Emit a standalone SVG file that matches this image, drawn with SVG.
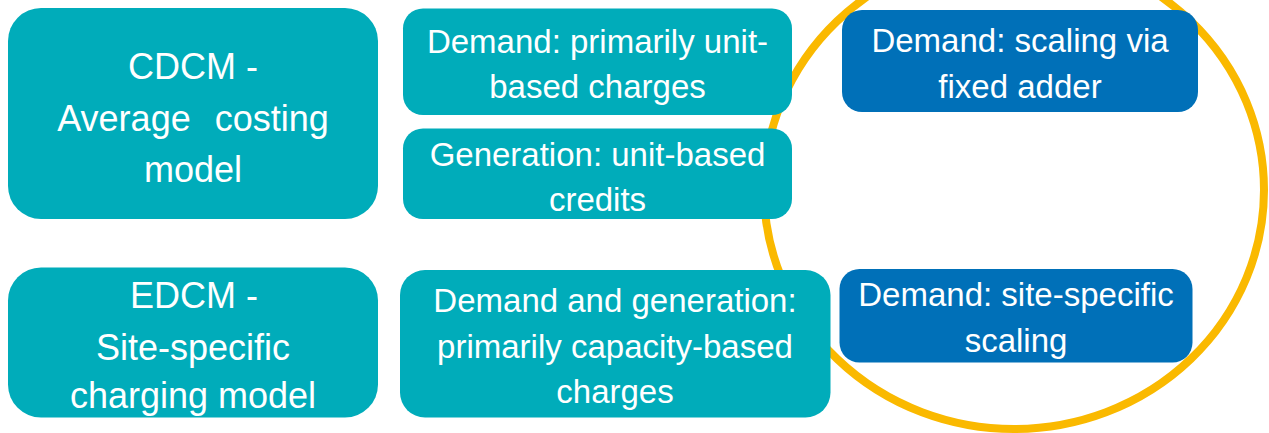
<svg xmlns="http://www.w3.org/2000/svg" width="1269" height="433" viewBox="0 0 1269 433">
<style>
.teal{fill:#00ACBA}
.blue{fill:#0070B8}
.t{fill:#FFFFFF;font-family:"Liberation Sans",Arial,sans-serif;text-anchor:middle}
.big{font-size:36px}
.sm{font-size:33px}
</style>
<rect width="1269" height="433" fill="#FFFFFF"/>
<g id="highlight">
<ellipse cx="1014" cy="190" rx="250" ry="239" fill="none" stroke="#FAB900" stroke-width="8"/>
</g>
<g id="connectors"></g>
<g id="cdcm">
<rect class="teal" x="8" y="8" width="370" height="211" rx="33"/>
<text class="t big" x="193" y="79">CDCM -</text>
<text class="t big" x="193" y="131" word-spacing="14">Average costing</text>
<text class="t big" x="193" y="182">model</text>
</g>
<g id="cdcm-demand">
<rect class="teal" x="403" y="8.5" width="389" height="106.5" rx="20"/>
<text class="t sm" x="597.5" y="52.7">Demand: primarily unit-</text>
<text class="t sm" x="597.5" y="98.3">based charges</text>
</g>
<g id="cdcm-generation">
<rect class="teal" x="403" y="128.5" width="389" height="90.5" rx="20"/>
<text class="t sm" x="597.5" y="165.7">Generation: unit-based</text>
<text class="t sm" x="597.5" y="210.7">credits</text>
</g>
<g id="edcm">
<rect class="teal" x="8" y="267.5" width="370" height="150" rx="33"/>
<text class="t big" x="194" y="308.3">EDCM -</text>
<text class="t big" x="193" y="360">Site-specific</text>
<text class="t big" x="193" y="408.3">charging model</text>
</g>
<g id="edcm-demand-generation">
<rect class="teal" x="400" y="270" width="430.5" height="147.5" rx="25"/>
<text class="t sm" x="615" y="311.7">Demand and generation:</text>
<text class="t sm" x="615" y="358.3">primarily capacity-based</text>
<text class="t sm" x="615" y="403.3">charges</text>
</g>
<g id="cdcm-scaling">
<rect class="blue" x="842" y="10" width="356" height="102" rx="20"/>
<text class="t sm" x="1020" y="51.7">Demand: scaling via</text>
<text class="t sm" x="1020" y="97.7">fixed adder</text>
</g>
<g id="edcm-scaling">
<rect class="blue" x="839.5" y="269" width="353" height="93.5" rx="20"/>
<text class="t sm" x="1016" y="306">Demand: site-specific</text>
<text class="t sm" x="1016" y="351.7">scaling</text>
</g>
</svg>
